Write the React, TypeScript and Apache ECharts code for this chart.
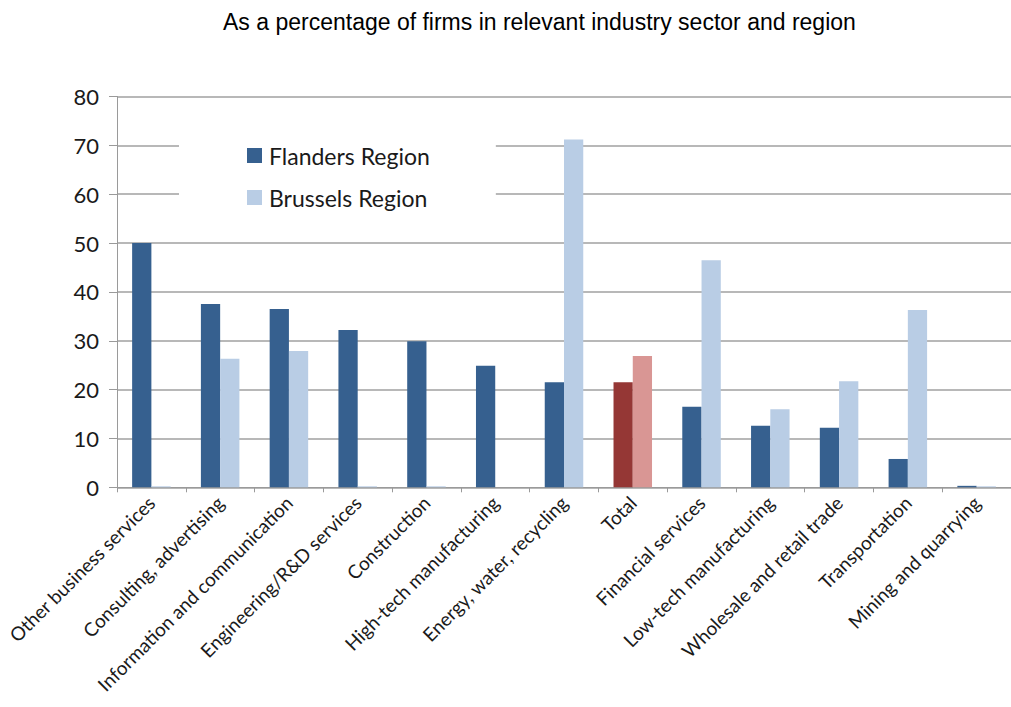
import React, { useEffect, useRef } from "react";
import * as echarts from "echarts";

const categories = [
  "Other business services",
  "Consulting, advertising",
  "Information and communication",
  "Engineering/R&D services",
  "Construction",
  "High-tech manufacturing",
  "Energy, water, recycling",
  "Total",
  "Financial services",
  "Low-tech manufacturing",
  "Wholesale and retail trade",
  "Transportation",
  "Mining and quarrying",
];
const flanders = [50, 37.5, 36.5, 32.2, 29.9, 24.9, 21.5, 21.5, 16.5, 12.6, 12.2, 5.8, 0.3];
const brussels = [0.2, 26.3, 27.9, 0.2, 0.2, 0, 71.2, 26.9, 46.5, 16.0, 21.7, 36.3, 0.2];
const yTicks = [0, 10, 20, 30, 40, 50, 60, 70, 80];

const TITLE = "As a percentage of firms in relevant industry sector and region";
const FLANDERS_COLOR = "#36608f";
const BRUSSELS_COLOR = "#b9cde5";
const TOTAL_DARK = "#953735";
const TOTAL_LIGHT = "#d99694";
const FONT = "Lato";

export default function App() {
  const ref = useRef<HTMLDivElement>(null);
  useEffect(() => {
    if (!ref.current) return;
    const chart = echarts.init(ref.current, undefined, { renderer: "svg" });
    const mk = (vals: number[], base: string, total: string) =>
      vals.map((v, i) =>
        categories[i] === "Total" ? { value: v, itemStyle: { color: total } } : { value: v, itemStyle: { color: base } }
      );
    chart.setOption({
      animation: false,
      backgroundColor: "#ffffff",
      title: {
        text: TITLE,
        left: 218,
        top: 5,
        textStyle: { fontFamily: "Liberation Sans", fontSize: 23, fontWeight: "normal", color: "#000" },
      },
      legend: {
        orient: "vertical",
        left: 179,
        top: 122,
        padding: [22, 66, 15, 68],
        backgroundColor: "#ffffff",
        itemWidth: 15,
        itemHeight: 15,
        itemGap: 19,
        icon: "rect",
        textStyle: { fontFamily: FONT, fontSize: 23, color: "#1a1a1a", padding: [0, 0, 0, 2] },
        data: [
          { name: "Flanders Region", itemStyle: { color: FLANDERS_COLOR } },
          { name: "Brussels Region", itemStyle: { color: BRUSSELS_COLOR } },
        ],
      },
      grid: { left: 117, right: -8, top: 96.5, bottom: 219.7, containLabel: false },
      xAxis: {
        type: "category",
        data: categories,
        axisLine: { lineStyle: { color: "#9a9a9a", width: 1 } },
        axisTick: { show: true, length: 5, lineStyle: { color: "#9a9a9a" } },
        axisLabel: {
          interval: 0,
          rotate: 45,
          margin: 12,
          fontFamily: FONT,
          fontSize: 19,
          color: "#1a1a1a",
        },
      },
      yAxis: {
        type: "value",
        min: 0,
        max: yTicks[yTicks.length - 1],
        interval: yTicks[1] - yTicks[0],
        axisLine: { show: true, lineStyle: { color: "#9a9a9a" } },
        axisTick: { show: true, length: 8, lineStyle: { color: "#9a9a9a" } },
        splitLine: { lineStyle: { color: "#a0a0a0", width: 1.5 } },
        axisLabel: { margin: 18, fontFamily: FONT, fontSize: 22, color: "#1a1a1a" },
      },
      series: [
        {
          name: "Flanders Region",
          type: "bar",
          data: mk(flanders, FLANDERS_COLOR, TOTAL_DARK),
          itemStyle: { color: FLANDERS_COLOR },
          barGap: "0%",
          barCategoryGap: "44%",
        },
        {
          name: "Brussels Region",
          type: "bar",
          data: mk(brussels, BRUSSELS_COLOR, TOTAL_LIGHT),
          itemStyle: { color: BRUSSELS_COLOR },
          barGap: "0%",
          barCategoryGap: "44%",
        },
      ],
    });
    return () => chart.dispose();
  }, []);
  return (
    <div
      ref={ref}
      style={{ position: "fixed", left: 0, top: 0, width: 1011, height: 707, background: "#fff" }}
    />
  );
}
